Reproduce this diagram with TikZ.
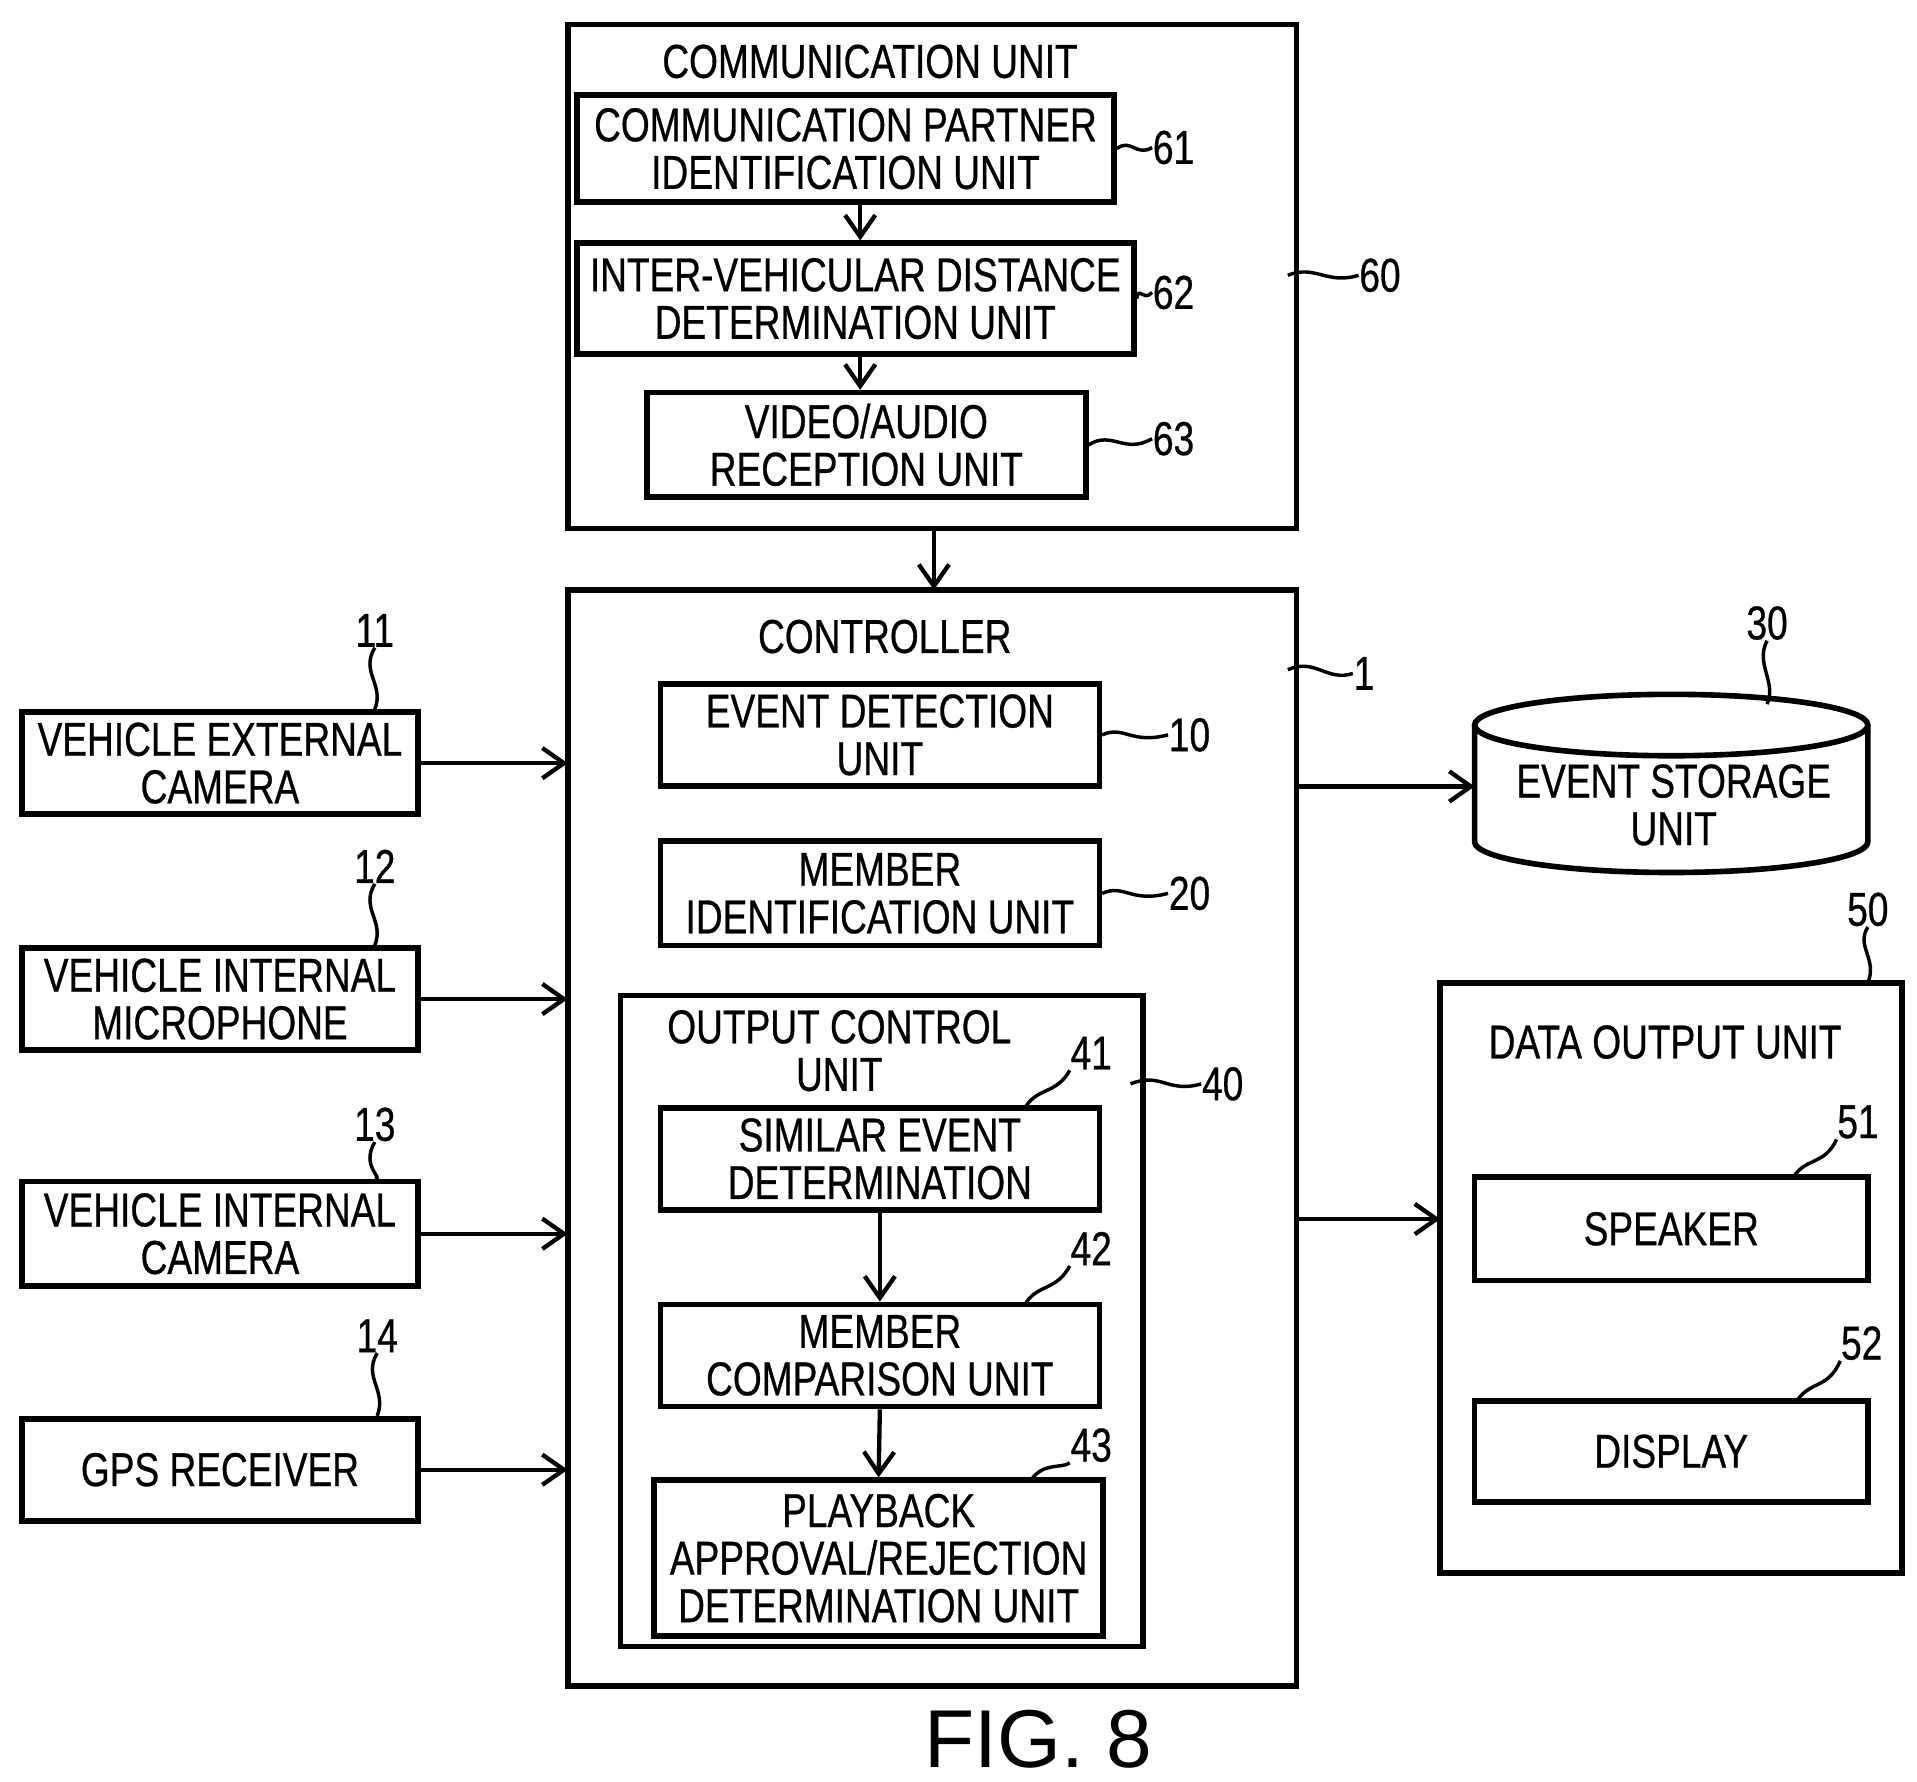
\documentclass[tikz,border=0pt]{standalone}
\usepackage{fontspec}
\setmainfont{Liberation Sans}[FakeStretch=0.78,FakeBold=0.6]
\newfontfamily\figfont{Liberation Sans}
\usetikzlibrary{positioning}
\usetikzlibrary{calc, arrows.meta}

\begin{document}
\begin{tikzpicture}[x=0.01cm,y=-0.01cm,
	every node/.style={font=\fontsize{11}{11}\selectfont, align=center, inner sep=0pt},
	box/.style={draw, line width=1.3pt},
	frame/.style={draw, line width=1.3pt},
	lead/.style={line width=0.8pt},
	link/.style={-{Straight Barb[length=5pt,width=7pt]}, line width=1pt}]
	\useasboundingbox (0,0) rectangle (1560,1450);

	% communication unit
	\draw[frame] (462,20) rectangle (1055,430);
	\node (commTitle) at (708,50) {COMMUNICATION UNIT};
	\node[box, minimum width=4.37cm, minimum height=0.87cm] (partner) at (688,121) {COMMUNICATION PARTNER\\IDENTIFICATION UNIT};
	\node[box, minimum width=4.53cm, minimum height=0.90cm] (distance) at (696,243) {INTER-VEHICULAR DISTANCE\\DETERMINATION UNIT};
	\node[box, minimum width=3.57cm, minimum height=0.85cm] (reception) at (705,362) {VIDEO/AUDIO\\RECEPTION UNIT};
	\draw[link] (partner.south -| 700,0) -- (distance.north -| 700,0);
	\draw[link] (distance.south -| 700,0) -- (reception.north -| 700,0);
	\node (n61) at (955,120) {61};
	\node (n62) at (955,238) {62};
	\node (n63) at (955,357) {63};
	\node (n60) at (1123,224) {60};
	\draw[lead] (partner.east) .. controls (920,112) and (925,128) .. (n61.west);
	\draw[lead] (distance.east) .. controls (927,232) and (930,246) .. (n62.west);
	\draw[lead] (reception.east) .. controls (905,350) and (915,370) .. (n63.west);
	\draw[lead] (1048,224) .. controls (1070,215) and (1080,232) .. (n60.west);

	% controller
	\draw[frame] (462,480) rectangle (1055,1372);
	\coordinate (ctrlTop) at (760,480);
	\draw[link] (760,430) -- (ctrlTop);
	\node (ctrlTitle) at (720,518) {CONTROLLER};
	\node (n1) at (1110,548) {1};
	\draw[lead] (1048,545) .. controls (1070,535) and (1080,555) .. (n1.west);
	\node[box, minimum width=3.57cm, minimum height=0.83cm] (event) at (716,598) {EVENT DETECTION\\UNIT};
	\node[box, minimum width=3.57cm, minimum height=0.85cm] (member) at (716,727) {MEMBER\\IDENTIFICATION UNIT};
	\node (n10) at (968,598) {10};
	\node (n20) at (968,727) {20};
	\draw[lead] (event.east) .. controls (915,590) and (920,606) .. (n10.west);
	\draw[lead] (member.east) .. controls (915,719) and (920,735) .. (n20.west);

	% output control unit
	\draw[frame] (505,810) rectangle (930,1340);
	\node (outTitle) at (683,855) {OUTPUT CONTROL\\UNIT};
	\node (n40) at (995,882) {40};
	\draw[lead] (920,882) .. controls (945,872) and (950,890) .. (n40.west);
	\node[box, minimum width=3.57cm, minimum height=0.83cm] (similar) at (716,943) {SIMILAR EVENT\\DETERMINATION};
	\node[box, minimum width=3.57cm, minimum height=0.83cm] (compare) at (716,1103) {MEMBER\\COMPARISON UNIT};
	\node[box, minimum width=3.65cm, minimum height=1.27cm] (playback) at (715,1268) {PLAYBACK\\APPROVAL/REJECTION\\DETERMINATION UNIT};
	\draw[link] (similar.south) -- (compare.north);
	\draw[link] (compare.south) -- (playback.north);
	\node (n41) at (888,857) {41};
	\node (n42) at (888,1016) {42};
	\node (n43) at (888,1176) {43};
	\draw[lead] (835,900) .. controls (845,885) and (860,890) .. (n41.south west);
	\draw[lead] (835,1060) .. controls (845,1045) and (860,1050) .. (n42.south west);
	\draw[lead] (840,1203) .. controls (850,1190) and (865,1195) .. (n43.south west);

	% inputs
	\node[box, minimum width=3.22cm, minimum height=0.83cm] (extCam) at (179,621) {VEHICLE EXTERNAL\\CAMERA};
	\node[box, minimum width=3.22cm, minimum height=0.83cm] (intMic) at (179,813) {VEHICLE INTERNAL\\MICROPHONE};
	\node[box, minimum width=3.22cm, minimum height=0.85cm] (intCam) at (179,1004) {VEHICLE INTERNAL\\CAMERA};
	\node[box, minimum width=3.22cm, minimum height=0.83cm] (gps) at (179,1196) {GPS RECEIVER};
	\node (n11) at (305,513) {11};
	\node (n12) at (305,705) {12};
	\node (n13) at (305,915) {13};
	\node (n14) at (307,1087) {14};
	\foreach \src/\num in {extCam/n11, intMic/n12, intCam/n13, gps/n14} {
		\draw[lead] (\num.south) .. controls ($(\num.south)+(-12,20)$) and ($(\num.south)+(8,30)$) .. (\src.north -| \num.south);
		\draw[link] (\src.east) -- (\src.east -| 462,0);
	}

	% event storage
	\node (store) at (1362,655) {EVENT STORAGE\\UNIT};
	\draw[frame] (1200,590) -- (1200,685) arc[start angle=180, end angle=360, x radius=160, y radius=-25] -- (1520,590);
	\draw[frame] (1360,590) ellipse[x radius=160, y radius=25];
	\draw[link] (1055,640) -- (1200,640);
	\node (n30) at (1438,507) {30};
	\draw[lead] (n30.south) .. controls (1428,540) and (1446,555) .. (1438,573);

	% data output unit
	\draw[frame] (1172,800) rectangle (1548,1280);
	\node (outUnit) at (1355,848) {DATA OUTPUT UNIT};
	\node (n50) at (1520,740) {50};
	\draw[lead] (n50.south) .. controls (1510,770) and (1528,780) .. (1520,800);
	\draw[link] (1055,992) -- (1172,992);
	\node[box, minimum width=3.20cm, minimum height=0.84cm] (speaker) at (1360,1000) {SPEAKER};
	\node[box, minimum width=3.20cm, minimum height=0.82cm] (display) at (1360,1181) {DISPLAY};
	\node (n51) at (1512,913) {51};
	\node (n52) at (1515,1093) {52};
	\draw[lead] (1460,957) .. controls (1470,942) and (1485,948) .. (n51.south west);
	\draw[lead] (1463,1139) .. controls (1473,1124) and (1488,1130) .. (n52.south west);

	\node[font=\figfont\fontsize{19}{19}\selectfont] (fig) at (845,1415) {FIG. 8};
\end{tikzpicture}
\end{document}
